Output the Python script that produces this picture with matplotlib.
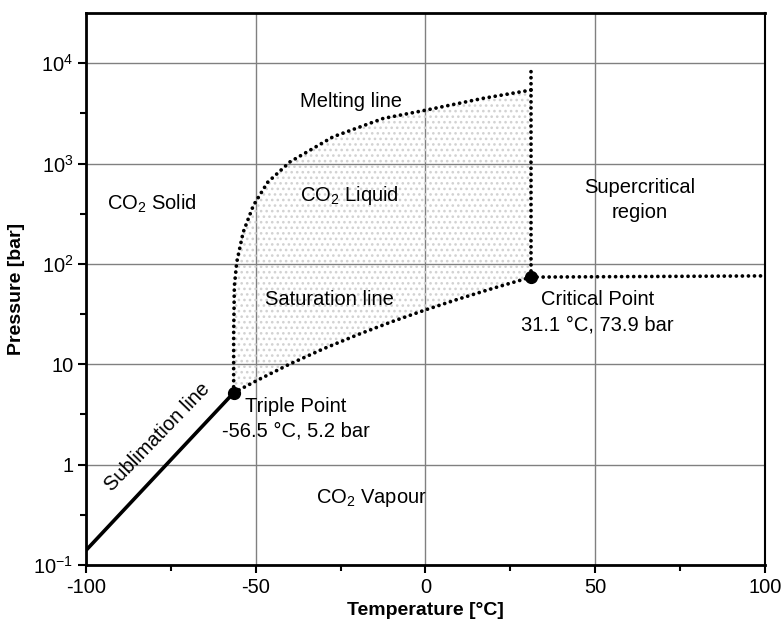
import numpy as np
import matplotlib.pyplot as plt
from matplotlib.ticker import FixedLocator

plt.rcParams["font.family"] = ["Liberation Sans", "DejaVu Sans"]
plt.rcParams["mathtext.fontset"] = "custom"
plt.rcParams["mathtext.rm"] = "Liberation Sans"
plt.rcParams["mathtext.it"] = "Liberation Sans:italic"
plt.rcParams["mathtext.bf"] = "Liberation Sans:bold"
plt.rcParams["hatch.linewidth"] = 1.1

# --- phase boundaries (T in degC, p in bar) ---
triple_T, triple_p = -56.5, 5.2
crit_T, crit_p = 31.1, 73.9

sublim_T = [-100.0, -56.5]
sublim_p = [0.14, 5.2]

sat_T = [-56.5, -50, -40, -30, -20, -10, 0, 10, 20, 31.1]
sat_p = [5.2, 6.8, 10.05, 14.3, 19.7, 26.5, 34.85, 45.0, 57.3, 73.9]

melt_T = [-56.5, -56.5, -56.3, -55.6, -53.7, -50.7, -46.5, -39.9, -27.2, -12.4, 0.0, 17.0, 31.1]
melt_p = [5.2, 20, 60, 104, 207, 382, 650, 1040, 1850, 2820, 3400, 4470, 5400]

crit_vert_p = [73.9, 9000]
super_T = [31.1, 100.0]
super_p = [73.9, 76.0]

x_ticks = [-100, -50, 0, 50, 100]
y_ticks = [0.1, 1, 10, 100, 1000, 10000]
y_ticklabels = [r"$\mathregular{10^{-1}}$", "1", "10",
                r"$\mathregular{10^{2}}$", r"$\mathregular{10^{3}}$",
                r"$\mathregular{10^{4}}$"]

fig = plt.figure(figsize=(7.84, 6.32), dpi=100)
ax = fig.add_axes([0.1097, 0.106, 0.866, 0.8734])

ax.set_yscale("log")
ax.set_xlim(-100, 100)
ax.set_ylim(0.1, 10 ** 4.5)

# liquid region: melting line up, across at crit_T, back down the saturation line
reg_T = list(melt_T) + [crit_T] + list(sat_T[::-1])
reg_p = list(melt_p) + [crit_p] + list(sat_p[::-1])
ax.fill(reg_T, reg_p, facecolor="none", edgecolor="#d2d2d2",
        hatch="...", linewidth=0, zorder=1)

dot = dict(color="black", lw=2.7, linestyle=(0, (0.01, 1.6)),
           dash_capstyle="round", zorder=3)
ax.plot(sat_T, sat_p, **dot)
ax.plot(melt_T, melt_p, **dot)
ax.plot([crit_T, crit_T], crit_vert_p, **dot)
ax.plot(super_T, super_p, **dot)
ax.plot(sublim_T, sublim_p, color="black", lw=2.6, solid_capstyle="butt", zorder=3)

ax.plot([triple_T, crit_T], [triple_p, crit_p], "o", color="black",
        markersize=8.5, zorder=4)

# --- axes, grid, ticks ---
ax.xaxis.set_major_locator(FixedLocator(x_ticks))
ax.xaxis.set_minor_locator(FixedLocator([-75, -25, 25, 75]))
ax.yaxis.set_major_locator(FixedLocator(y_ticks))
ax.yaxis.set_minor_locator(FixedLocator([10 ** (k + 0.5) for k in range(-1, 4)]))
ax.set_yticklabels(y_ticklabels)
ax.set_xticklabels([str(t) for t in x_ticks])

ax.grid(True, which="major", color="#808080", lw=1.0, zorder=0)
ax.set_axisbelow(True)
ax.tick_params(which="major", direction="out", length=6, width=1.5,
               labelsize=14.5, pad=3, color="black")
ax.tick_params(which="minor", direction="out", length=4, width=1.5)
for s in ax.spines.values():
    s.set_linewidth(2.0)
ax.spines["right"].set_linewidth(1.5)

ax.set_xlabel("Temperature [°C]", fontsize=14, fontweight="bold", labelpad=4)
ax.set_ylabel("Pressure [bar]", fontsize=14, fontweight="bold", labelpad=6)

# --- region and point labels ---
fs = 14.5
ax.text(-22, 4170, "Melting line", fontsize=fs, ha="center", va="center")
ax.text(-22.3, 479, "CO$_2$ Liquid", fontsize=fs, ha="center", va="center")
ax.text(-28.2, 44.7, "Saturation line", fontsize=fs, ha="center", va="center")
ax.text(-80.6, 398, "CO$_2$ Solid", fontsize=fs, ha="center", va="center")
ax.text(63.2, 430, "Supercritical\nregion", fontsize=fs, ha="center",
        va="center", linespacing=1.4)
ax.text(50.6, 33, "Critical Point\n31.1 °C, 73.9 bar", fontsize=fs,
        ha="center", va="center", linespacing=1.4)
ax.text(-38.2, 2.85, "Triple Point\n-56.5 °C, 5.2 bar", fontsize=fs,
        ha="center", va="center", linespacing=1.4)
ax.text(-16, 0.47, "CO$_2$ Vapour", fontsize=fs, ha="center", va="center")
ax.text(-79, 1.9, "Sublimation line", fontsize=fs, ha="center", va="center",
        rotation=46, rotation_mode="anchor")

fig.savefig("out.png", dpi=100)
